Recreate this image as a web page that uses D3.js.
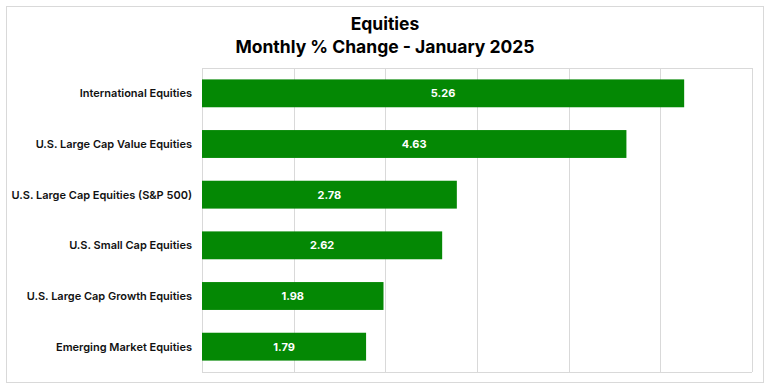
<!DOCTYPE html>
<html>
<head>
<meta charset="utf-8">
<script src="https://cdn.jsdelivr.net/npm/d3@7/dist/d3.min.js"></script>
<style>
  body { margin: 0; background: #fff; }
  text { font-family: Inter, "Open Sans", sans-serif; }
</style>
</head>
<body>
<script>
// data
var categories = ["International Equities", "U.S. Large Cap Value Equities", "U.S. Large Cap Equities (S&P 500)",
                  "U.S. Small Cap Equities", "U.S. Large Cap Growth Equities", "Emerging Market Equities"];
var values = [5.26, 4.63, 2.78, 2.62, 1.98, 1.79];
var xTicks = [0, 1, 2, 3, 4, 5, 6];
var titleLines = ["Equities", "Monthly % Change - January 2025"];

var width = 770, height = 392;
var margin = {left: 202, right: 18, top: 68, bottom: 20};

var svg = d3.select("body").append("svg")
            .attr("width", width)
            .attr("height", height);

// outer frame
svg.append("rect")
   .attr("x", 6.5).attr("y", 6.5)
   .attr("width", 757).attr("height", 376)
   .attr("fill", "#fff").attr("stroke", "#d9d9d9");

var x = d3.scaleLinear().domain([0, 6]).range([margin.left, width - margin.right]);
var y = d3.scaleBand().domain(categories)
          .range([margin.top, height - margin.bottom])
          .paddingInner(0.45).paddingOuter(0.225);

// gridlines
svg.append("g").selectAll("line")
   .data(xTicks)
   .enter().append("line")
   .attr("x1", d => Math.round(x(d)) + 0.5).attr("x2", d => Math.round(x(d)) + 0.5)
   .attr("y1", margin.top).attr("y2", height - margin.bottom)
   .attr("stroke", "#d9d9d9");

svg.append("line")
   .attr("x1", margin.left).attr("x2", width - margin.right)
   .attr("y1", margin.top + 0.5).attr("y2", margin.top + 0.5)
   .attr("stroke", "#d9d9d9");
svg.append("line")
   .attr("x1", margin.left).attr("x2", width - margin.right)
   .attr("y1", height - margin.bottom + 0.5).attr("y2", height - margin.bottom + 0.5)
   .attr("stroke", "#d9d9d9");

// bars
svg.append("g").selectAll("rect")
   .data(values)
   .enter().append("rect")
   .attr("x", x(0))
   .attr("y", (d, i) => y(categories[i]))
   .attr("width", d => x(d) - x(0))
   .attr("height", y.bandwidth())
   .attr("fill", "#048804");

// value labels
svg.append("g").selectAll("text")
   .data(values)
   .enter().append("text")
   .attr("x", d => (x(0) + x(d)) / 2)
   .attr("y", (d, i) => y(categories[i]) + y.bandwidth() / 2 + 4)
   .attr("text-anchor", "middle")
   .attr("fill", "#fff")
   .attr("font-size", 11)
   .attr("font-weight", "bold")
   .text(d => d.toFixed(2));

// category labels
svg.append("g").selectAll("text")
   .data(categories)
   .enter().append("text")
   .attr("x", margin.left - 10)
   .attr("y", d => y(d) + y.bandwidth() / 2 + 4)
   .attr("text-anchor", "end")
   .attr("fill", "#111")
   .attr("font-size", 11)
   .attr("font-weight", 600)
   .text(d => d);

// title
svg.append("g").selectAll("text")
   .data(titleLines)
   .enter().append("text")
   .attr("x", 385)
   .attr("y", (d, i) => 30 + i * 23)
   .attr("text-anchor", "middle")
   .attr("fill", "#000")
   .attr("font-size", 17.5)
   .attr("font-weight", 700)
   .text(d => d);
</script>
</body>
</html>
